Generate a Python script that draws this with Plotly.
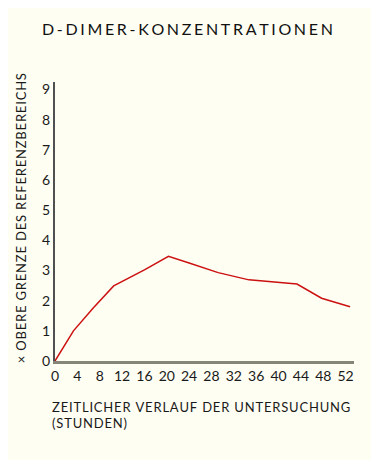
import plotly.graph_objects as go

hours = [0, 3.3, 6.8, 10.5, 16, 20.3, 24, 29.2, 34.7, 43.3, 47.7, 52.8]
ddimer = [0, 1.0, 1.75, 2.49, 3.02, 3.47, 3.25, 2.93, 2.69, 2.55, 2.08, 1.80]
x_ticks = [0, 4, 8, 12, 16, 20, 24, 28, 32, 36, 40, 44, 48, 52]
y_ticks = list(range(0, 10))

title = "D-DIMER-KONZENTRATIONEN"
y_title = "× OBERE GRENZE DES REFERENZBEREICHS"
x_title_lines = ["ZEITLICHER VERLAUF DER UNTERSUCHUNG", "(STUNDEN)"]

FONT = "Lato"
BG = "#fefef3"


def track(s, sp="\u200a"):
    # letter-spacing imitation with narrow spaces
    return sp.join(s)


fig = go.Figure()
fig.add_trace(go.Scatter(x=hours, y=ddimer, mode="lines",
                         line=dict(color="#cc1111", width=1.5),
                         hoverinfo="skip", showlegend=False))

anns = [
    dict(text=track(title, "\u2006"), xref="paper", yref="paper", x=-0.050, y=1.192,
         xanchor="left", yanchor="middle", showarrow=False,
         font=dict(size=16, family=FONT, color="#111")),
    dict(text=track(y_title), xref="paper", yref="paper", x=-0.1137, y=0.512,
         xanchor="center", yanchor="middle", textangle=-90, showarrow=False,
         font=dict(size=13, family=FONT, color="#1a1a1a")),
]
for i, line in enumerate(x_title_lines):
    anns.append(dict(text=track(line), xref="paper", yref="paper",
                     x=-0.017, y=(353 - 399 - 16 * i) / 279,
                     xanchor="left", yanchor="middle", align="left", showarrow=False,
                     font=dict(size=13, family=FONT, color="#1a1a1a")))

fig.update_layout(
    width=371, height=452,
    paper_bgcolor=BG, plot_bgcolor=BG,
    margin=dict(l=47, r=25, t=74, b=99),
    font=dict(family=FONT, color="#1a1a1a", size=14),
    xaxis=dict(range=[0, 53.5], tickvals=x_ticks, showgrid=False, zeroline=False,
               showline=True, linecolor="#858578", linewidth=2.5,
               ticks="", tickfont=dict(size=14), fixedrange=True),
    yaxis=dict(range=[0, 9.25], tickvals=y_ticks, showgrid=False, zeroline=False,
               showline=True, linecolor="#505050", linewidth=2,
               ticks="", tickfont=dict(size=14), fixedrange=True),
    annotations=anns,
)

fig.write_html("out.html")
